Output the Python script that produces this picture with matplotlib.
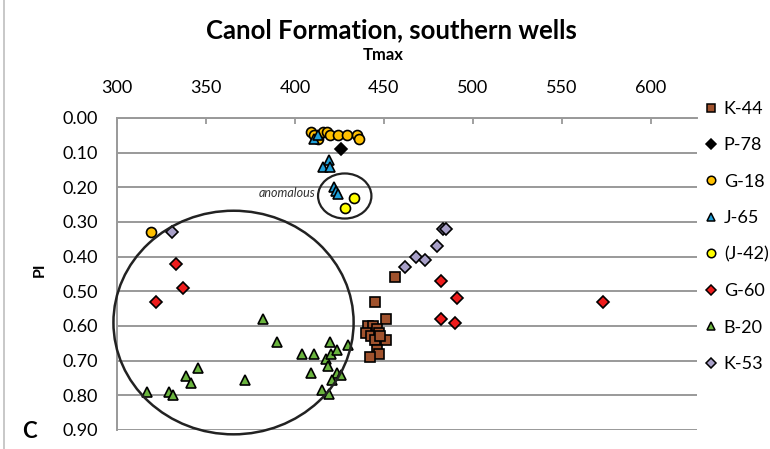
import matplotlib
matplotlib.use("Agg")
import matplotlib.pyplot as plt
from matplotlib.patches import Ellipse
from matplotlib.lines import Line2D

plt.rcParams['font.family'] = ['Lato', 'DejaVu Sans']

# ---- data (Tmax, PI) ----
k44_t = [456, 445, 451, 441, 444, 440, 446, 443, 447, 445, 451, 448, 446, 447, 442]
k44_pi = [0.46, 0.53, 0.58, 0.60, 0.60, 0.62, 0.61, 0.63, 0.62, 0.64, 0.64, 0.63, 0.67, 0.68, 0.69]

p78_t = [426]
p78_pi = [0.09]

g18_t = [409, 411, 413, 416, 418, 420, 424, 429, 435, 436, 319]
g18_pi = [0.04, 0.05, 0.06, 0.04, 0.04, 0.05, 0.05, 0.05, 0.05, 0.06, 0.33]

j65_t = [411, 413, 416, 419, 420, 422, 423, 424]
j65_pi = [0.06, 0.05, 0.14, 0.12, 0.14, 0.20, 0.21, 0.22]

j42_t = [428, 433]
j42_pi = [0.26, 0.23]

g60_t = [322, 333, 337, 482, 491, 482, 490, 573]
g60_pi = [0.53, 0.42, 0.49, 0.47, 0.52, 0.58, 0.59, 0.53]

b20_t = [317, 329, 331.5, 339, 341.5, 345.5, 372, 382, 390, 404, 410.5, 409, 415, 419,
         417.5, 418.5, 420.5, 420, 423.5, 423.5, 426, 421, 430]
b20_pi = [0.79, 0.79, 0.80, 0.745, 0.765, 0.72, 0.755, 0.58, 0.645, 0.68, 0.68, 0.735, 0.785, 0.795,
          0.695, 0.715, 0.68, 0.645, 0.67, 0.735, 0.74, 0.755, 0.655]

k53_t = [483, 485, 480, 468, 473, 462, 331]
k53_pi = [0.32, 0.32, 0.37, 0.40, 0.41, 0.43, 0.33]

x_ticks = [300, 350, 400, 450, 500, 550, 600]
y_ticks = [0.00, 0.10, 0.20, 0.30, 0.40, 0.50, 0.60, 0.70, 0.80, 0.90]

series = [
    ("K-44", k44_t, k44_pi, 's', '#A0522D', 7.4),
    ("P-78", p78_t, p78_pi, 'D', '#000000', 6.2),
    ("G-18", g18_t, g18_pi, 'o', '#FFC000', 7.2),
    ("J-65", j65_t, j65_pi, '^', '#1F9FD8', 7.4),
    ("(J-42)", j42_t, j42_pi, 'o', '#FFFF00', 7.2),
    ("G-60", g60_t, g60_pi, 'D', '#EE1C1C', 6.2),
    ("B-20", b20_t, b20_pi, '^', '#6AB43E', 7.4),
    ("K-53", k53_t, k53_pi, 'D', '#A8A0C8', 6.2),
]

W, H = 770, 449
fig = plt.figure(figsize=(W / 100, H / 100), dpi=100)
ax_left, ax_right, ax_top, ax_bot = 117, 697, 118, 430
ax = fig.add_axes([ax_left / W, 1 - ax_bot / H, (ax_right - ax_left) / W, (ax_bot - ax_top) / H])

grid_c = '#999999'
ax.set_xlim(300, 626)
ax.set_ylim(0.90, 0.00)
ax.set_xticks(x_ticks)
ax.set_yticks(y_ticks)
ax.set_yticklabels([f"{v:.2f}" for v in y_ticks])
ax.xaxis.tick_top()
ax.tick_params(axis='x', direction='in', length=4.5, width=1.3, color=grid_c, pad=16,
               labelsize=13, labelcolor='#000000')
ax.tick_params(axis='y', length=0, pad=14, labelsize=13)
ax.yaxis.grid(True, color=grid_c, lw=1.4)
ax.set_axisbelow(True)
for s in ['right', 'bottom']:
    ax.spines[s].set_visible(False)
for s in ['top', 'left']:
    ax.spines[s].set_color(grid_c)
    ax.spines[s].set_linewidth(1.4)

handles = []
for name, t, pi, m, c, ms in series:
    ax.plot(t, pi, linestyle='none', marker=m, markersize=ms, markerfacecolor=c,
            markeredgecolor='black', markeredgewidth=1.2, clip_on=False, zorder=3)
    handles.append(Line2D([], [], linestyle='none', marker=m, markersize=ms * 0.85,
                          markerfacecolor=c, markeredgecolor='black', markeredgewidth=1.1, label=name))

# ellipses
ax.add_patch(Ellipse((365.5, 0.59), 135, 0.645, angle=0, fill=False, edgecolor='#222222', lw=1.8,
                     clip_on=False, zorder=4))
ax.add_patch(Ellipse((428, 0.225), 30, 0.13, fill=False, edgecolor='#222222', lw=1.6,
                     clip_on=False, zorder=4))
ax.text(411.5, 0.215, "anomalous", style='italic', fontsize=9, ha='right', va='center', color='#333333')

leg = fig.legend(handles=handles, loc='upper left', bbox_to_anchor=(704 / W, 1 - 101 / H),
                 frameon=False, fontsize=13, handlelength=0.8, handletextpad=0.3,
                 labelspacing=1.13, borderpad=0, borderaxespad=0)

fig.text(391 / W, 1 - 30 / H, "Canol Formation, southern wells", ha='center', va='center',
         fontsize=18.5, fontweight='bold')
fig.text(383 / W, 1 - 55 / H, "Tmax", ha='center', va='center', fontsize=12, fontweight='bold')
fig.text(40 / W, 1 - 270 / H, "PI", ha='center', va='center', fontsize=11.5, fontweight='bold',
         rotation=90)
fig.text(29 / W, 1 - 431 / H, "C", ha='center', va='center', fontsize=16, fontweight='bold')

fig.add_artist(Line2D([3.5 / W, 3.5 / W], [0, 1], transform=fig.transFigure, color='#BFBFBF', lw=1.2))

fig.savefig("out.png", dpi=100)
